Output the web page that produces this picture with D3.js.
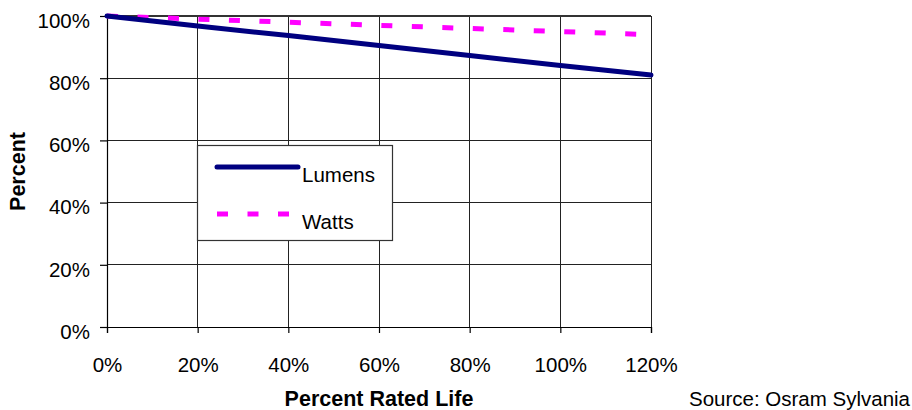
<!DOCTYPE html>
<html>
<head>
<meta charset="utf-8">
<script src="https://cdn.jsdelivr.net/npm/d3@7"></script>
<style>
  html, body { margin: 0; padding: 0; background: #fff; }
  svg text { font-family: "Liberation Sans", Arial, sans-serif; fill: #000; }
</style>
</head>
<body>
<svg id="chart" width="912" height="410"></svg>
<script>
// ---- data ----
const lifePct = [0, 20, 40, 60, 80, 100, 120];
const lumens  = [100, 96.8, 93.7, 90.5, 87.3, 84.1, 81];
const watts   = [100, 99, 98, 97, 96, 95, 94];
const xTicks  = [0, 20, 40, 60, 80, 100, 120];
const yTicks  = [0, 20, 40, 60, 80, 100];
const seriesNames = ["Lumens", "Watts"];

const FS = 20.5, FSB = 21.5;
const svg = d3.select("#chart");
const L = 107, R = 651, T = 16, B = 327;

const x = d3.scaleLinear().domain([0, 120]).range([L, R]);
const y = d3.scaleLinear().domain([0, 100]).range([B, T]);

// gridlines
svg.append("g").selectAll("line.h").data(yTicks.filter(d => d > 0)).join("line")
  .attr("x1", L).attr("x2", R).attr("y1", d => y(d)).attr("y2", d => y(d))
  .attr("stroke", "#222").attr("stroke-width", 1).attr("shape-rendering", "crispEdges");
svg.append("g").selectAll("line.v").data(xTicks.filter(d => d > 0)).join("line")
  .attr("x1", d => x(d)).attr("x2", d => x(d)).attr("y1", T).attr("y2", B)
  .attr("stroke", "#222").attr("stroke-width", 1).attr("shape-rendering", "crispEdges");
// top border
svg.append("line").attr("x1", L).attr("x2", R).attr("y1", T).attr("y2", T)
  .attr("stroke", "#333").attr("stroke-width", 2).attr("shape-rendering", "crispEdges");

// axes
const fmt = d => d + "%";
const yAxis = svg.append("g").attr("transform", `translate(${L},0)`)
  .call(d3.axisLeft(y).tickValues(yTicks).tickFormat(fmt).tickSize(7).tickPadding(10));
const xAxis = svg.append("g").attr("transform", `translate(0,${B})`)
  .call(d3.axisBottom(x).tickValues(xTicks).tickFormat(fmt).tickSize(6).tickPadding(24));
[yAxis, xAxis].forEach(g => {
  g.select(".domain").attr("stroke", "#000").attr("stroke-width", 1.2);
  g.selectAll(".tick line").attr("stroke", "#000").attr("stroke-width", 1.2);
  g.selectAll("text").attr("font-size", FS).attr("font-family", "Liberation Sans, Arial, sans-serif").attr("fill", "#000");
});
yAxis.selectAll("text").attr("dy", "0.55em");
xAxis.selectAll("text").attr("dy", "0.71em");

// lines
const lineGen = d3.line().x((d, i) => x(lifePct[i])).y(d => y(d));
svg.append("path").datum(watts).attr("d", lineGen)
  .attr("fill", "none").attr("stroke", "#FF00FF").attr("stroke-width", 5)
  .attr("stroke-dasharray", "11,19.5");
svg.append("path").datum(lumens).attr("d", lineGen)
  .attr("fill", "none").attr("stroke", "#000080").attr("stroke-width", 5)
  .attr("stroke-linecap", "round");

// legend
const lg = svg.append("g");
lg.append("rect").attr("x", 197.5).attr("y", 145.5).attr("width", 195).attr("height", 95)
  .attr("fill", "#fff").attr("stroke", "#333").attr("stroke-width", 1.2);
lg.append("line").attr("x1", 217).attr("x2", 298).attr("y1", 167).attr("y2", 167)
  .attr("stroke", "#000080").attr("stroke-width", 5).attr("stroke-linecap", "round");
lg.append("line").attr("x1", 217).attr("x2", 289).attr("y1", 214).attr("y2", 214)
  .attr("stroke", "#FF00FF").attr("stroke-width", 5).attr("stroke-dasharray", "11,19.5");
lg.append("text").attr("x", 302).attr("y", 182).attr("font-size", FS).text(seriesNames[0]);
lg.append("text").attr("x", 302).attr("y", 229).attr("font-size", FS).text(seriesNames[1]);

// titles
svg.append("text").attr("x", (L + R) / 2).attr("y", 406).attr("text-anchor", "middle")
  .attr("font-size", FSB).attr("font-weight", "bold").text("Percent Rated Life");
svg.append("text").attr("transform", `translate(25,${(T + B) / 2}) rotate(-90)`)
  .attr("text-anchor", "middle").attr("font-size", FSB).attr("font-weight", "bold").text("Percent");
svg.append("text").attr("x", 910).attr("y", 406).attr("text-anchor", "end")
  .attr("font-size", FS).text("Source: Osram Sylvania");
</script>
</body>
</html>
